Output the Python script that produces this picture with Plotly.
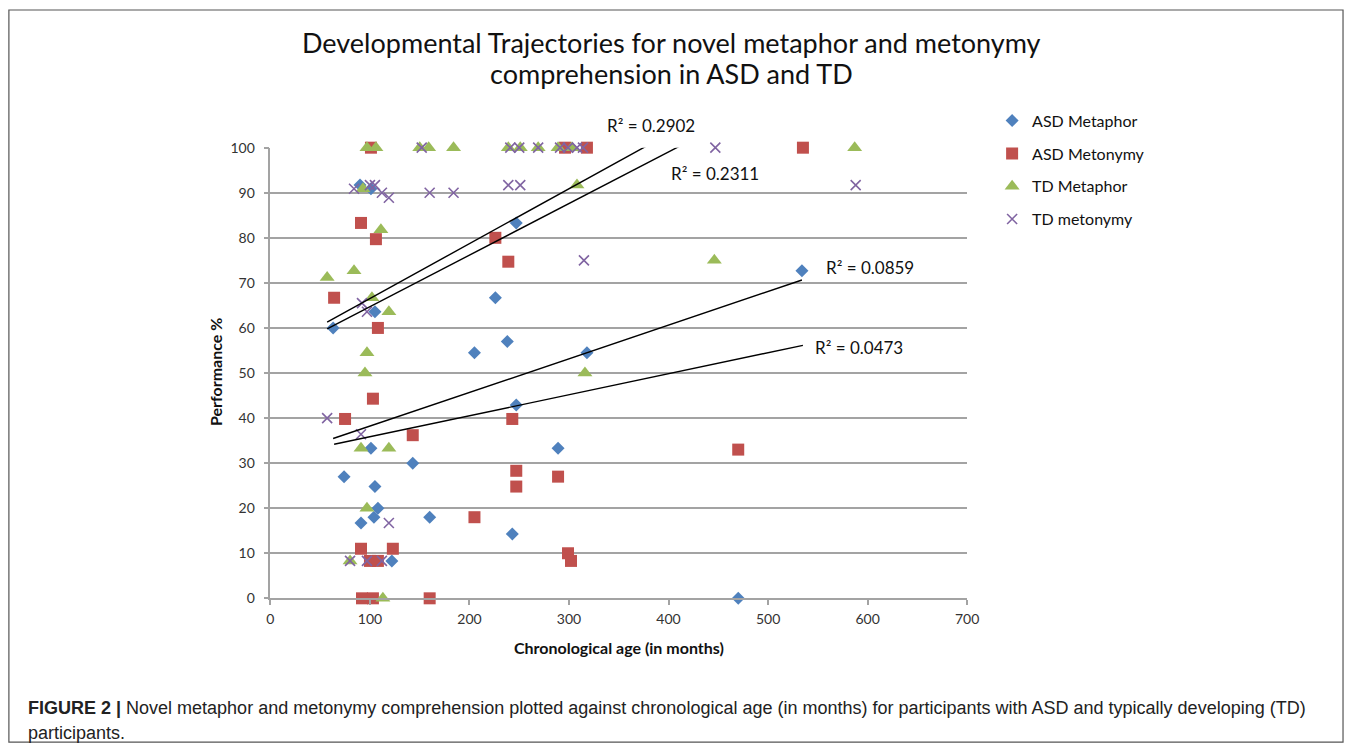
import plotly.graph_objects as go

# ---------------- data ----------------
asd_metaphor_x = [63, 90, 101, 105, 74, 101, 143, 105, 108, 104, 91, 160, 122,
                  205, 226, 238, 247, 289, 243, 247, 318, 534, 470]
asd_metaphor_y = [60, 91.7, 90.9, 63.6, 27, 33.3, 30, 24.8, 20, 18, 16.7, 18, 8.3,
                  54.5, 66.7, 57, 42.9, 33.3, 14.3, 83.3, 54.5, 72.7, 0]

asd_metonymy_x = [101, 91, 106, 64, 108, 103, 75, 143, 91, 123, 100, 108, 92, 103,
                  160, 205, 247, 247, 289, 299, 302, 226, 239, 243, 296, 318, 470, 535]
asd_metonymy_y = [100, 83.3, 79.7, 66.7, 60, 44.3, 39.8, 36.2, 11, 11, 8.3, 8.3, 0, 0,
                  0, 18, 28.3, 24.8, 27, 10, 8.3, 80, 74.7, 39.8, 100, 100, 33, 100]

td_metaphor_x = [57, 84, 97, 106, 93, 111, 102, 119, 97, 95, 91, 119, 97, 80, 113,
                 150, 159, 184, 239, 251, 269, 289, 303, 308, 316, 446, 587]
td_metaphor_y = [71.2, 72.7, 100, 100, 90.9, 81.8, 66.7, 63.6, 54.5, 50, 33.3, 33.3, 20, 8.3, 0,
                 100, 100, 100, 100, 100, 100, 100, 100, 91.7, 50, 75, 100]

td_metonymy_x = [57, 91, 92, 97, 80, 97, 112, 119, 84, 100, 105, 112, 119, 160, 184,
                 239, 251, 152, 241, 250, 269, 291, 299, 308, 314, 315, 447, 588]
td_metonymy_y = [40, 36.4, 65.5, 63.6, 8.3, 8.3, 8.3, 16.7, 90.9, 91.7, 91.7, 90, 88.9, 90, 90,
                 91.7, 91.7, 100, 100, 100, 100, 100, 100, 100, 100, 75, 100, 91.7]

series_names = ["ASD Metaphor", "ASD Metonymy", "TD Metaphor", "TD metonymy"]
# linear trend lines (slope, intercept, R²) as drawn in the reference
trend_slope = [0.0747, 0.0466, 0.1218, 0.1145]
trend_intercept = [30.75, 31.2, 54.35, 53.26]
trend_r2 = ["0.0859", "0.0473", "0.2902", "0.2311"]

x_ticks = [0, 100, 200, 300, 400, 500, 600, 700]
y_ticks = [0, 10, 20, 30, 40, 50, 60, 70, 80, 90, 100]

title_lines = ["Developmental Trajectories for novel metaphor and metonymy",
               "comprehension in ASD and TD"]
x_title = "Chronological age (in months)"
y_title = "Performance %"
caption_bold = "FIGURE 2 |"
caption_line1 = " Novel metaphor and metonymy comprehension plotted against chronological age (in months) for participants with ASD and typically developing (TD)"
caption_line2 = "participants."

# ---------------- layout helpers ----------------
W, H = 1357, 752
# measured mapping between page pixels and the photographed picture
AX, SX = 3.1, 0.990
AY, SY = 8.2, 0.9782


def px(T):
    return ((T - AX) / SX) / W


def py(T):
    return 1 - ((T - AY) / SY) / H


CHART_FONT = "Lato, Open Sans, sans-serif"
xs_all = [asd_metaphor_x, asd_metonymy_x, td_metaphor_x, td_metonymy_x]
ys_all = [asd_metaphor_y, asd_metonymy_y, td_metaphor_y, td_metonymy_y]
colors = ["#4F81BD", "#C0504D", "#9BBB59", "#8064A2"]
symbols = ["diamond", "square", "triangle-up", "x-thin"]
sizes = [10, 12, 13, 10]

fig = go.Figure()
for i in range(4):
    marker = dict(color=colors[i], symbol=symbols[i], size=sizes[i])
    if symbols[i] == "x-thin":
        marker["line"] = dict(color=colors[i], width=1.6)
    else:
        marker["line"] = dict(width=0)
    fig.add_trace(go.Scatter(
        x=xs_all[i], y=ys_all[i], mode="markers", name=series_names[i],
        marker=marker, cliponaxis=False, legendgroup=series_names[i],
    ))

for i in range(4):
    x0, x1 = min(xs_all[i]), max(xs_all[i])
    tx = [x0, x1]
    ty = [trend_intercept[i] + trend_slope[i] * v for v in tx]
    fig.add_trace(go.Scatter(
        x=tx, y=ty, mode="lines", showlegend=False, hoverinfo="skip",
        line=dict(color="black", width=1.4),
    ))

# R² labels (picture pixel centres)
r2_pos = [(871, 267), (860, 347), (651, 125), (715, 173)]
annotations = []
for i in range(4):
    annotations.append(dict(
        x=px(r2_pos[i][0]), y=py(r2_pos[i][1]), xref="paper", yref="paper",
        text="R² = " + trend_r2[i], showarrow=False,
        font=dict(family=CHART_FONT, size=17, color="#111"),
        xanchor="center", yanchor="middle"))

annotations.append(dict(x=px(672), y=py(42), xref="paper", yref="paper",
                        text=title_lines[0], showarrow=False,
                        font=dict(family=CHART_FONT, size=27, color="#111"),
                        xanchor="center", yanchor="middle"))
annotations.append(dict(x=px(672), y=py(73), xref="paper", yref="paper",
                        text=title_lines[1], showarrow=False,
                        font=dict(family=CHART_FONT, size=27, color="#111"),
                        xanchor="center", yanchor="middle"))
annotations.append(dict(x=px(619), y=py(647), xref="paper", yref="paper",
                        text="<b>" + x_title + "</b>", showarrow=False,
                        font=dict(family=CHART_FONT, size=16, color="#111"),
                        xanchor="center", yanchor="middle"))
annotations.append(dict(x=px(215), y=py(372), xref="paper", yref="paper",
                        text="<b>" + y_title + "</b>", showarrow=False, textangle=-90,
                        font=dict(family=CHART_FONT, size=16, color="#111"),
                        xanchor="center", yanchor="middle"))
annotations.append(dict(x=px(25), y=py(708), xref="paper", yref="paper",
                        text="<b>" + caption_bold + "</b>" + caption_line1, showarrow=False,
                        font=dict(family="Liberation Sans, Arial, sans-serif", size=18, color="#222"),
                        xanchor="left", yanchor="middle"))
annotations.append(dict(x=px(25), y=py(733), xref="paper", yref="paper",
                        text=caption_line2, showarrow=False,
                        font=dict(family="Liberation Sans, Arial, sans-serif", size=18, color="#222"),
                        xanchor="left", yanchor="middle"))

GRID = "#A3A3A3"
fig.update_layout(
    width=W, height=H,
    margin=dict(l=0, r=0, t=0, b=0, pad=0),
    paper_bgcolor="white", plot_bgcolor="white",
    font=dict(family=CHART_FONT, size=14, color="#222"),
    showlegend=True,
    legend=dict(x=px(993), y=py(103), xanchor="left", yanchor="top",
                font=dict(family=CHART_FONT, size=16, color="#111"),
                bgcolor="rgba(0,0,0,0)", tracegroupgap=9,
                itemclick=False),
    xaxis=dict(domain=[px(270), px(968)], range=[0, 700], tickvals=x_ticks,
               showgrid=False, zeroline=False, showline=True, linecolor=GRID,
               linewidth=1.6, ticks="outside", ticklen=5, tickcolor=GRID, tickwidth=1.5,
               ticklabelstandoff=2,
               tickfont=dict(family=CHART_FONT, size=14, color="#333")),
    yaxis=dict(domain=[py(598), py(147)], range=[0, 100], tickvals=y_ticks,
               showgrid=True, gridcolor=GRID, gridwidth=1.6, zeroline=False,
               showline=True, linecolor=GRID, linewidth=1.6,
               ticks="outside", ticklen=5, tickcolor=GRID, tickwidth=1.5,
               ticklabelstandoff=6,
               tickfont=dict(family=CHART_FONT, size=14, color="#333")),
    annotations=annotations,
    shapes=[dict(type="rect", xref="paper", yref="paper",
                 x0=px(8), x1=min(px(1349), 1355 / W), y0=max(py(742), 1 / H), y1=min(py(8), 1 - 1 / H),
                 line=dict(color="#555", width=1.2), fillcolor="rgba(0,0,0,0)")],
)

fig.write_html(
    "out.html",
    config={"displayModeBar": False},
    post_script="document.body.style.margin='0';document.body.style.overflow='hidden';",
)
